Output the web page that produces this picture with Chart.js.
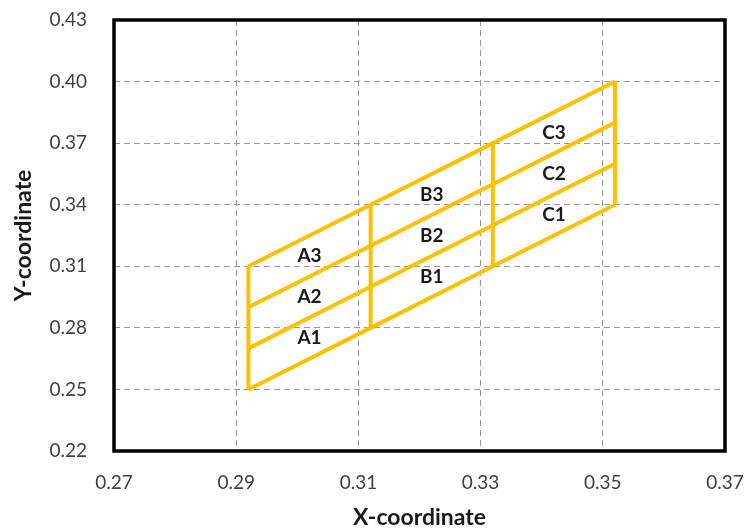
<!DOCTYPE html>
<html>
<head>
<meta charset="utf-8">
<script src="https://cdn.jsdelivr.net/npm/chart.js@4.4.1/dist/chart.umd.min.js"></script>
<style>
  html, body { margin: 0; padding: 0; background: #fff; }
  #wrap { width: 746px; height: 531px; }
</style>
</head>
<body>
<div id="wrap"><canvas id="chart"></canvas></div>
<script>
  // mesh nodes: x position of each column line, y values of the 4 row lines along it
  const xNodes = [0.292, 0.312, 0.332, 0.352];
  const yNodes = [
    [0.25, 0.27, 0.29, 0.31],
    [0.28, 0.30, 0.32, 0.34],
    [0.31, 0.33, 0.35, 0.37],
    [0.34, 0.36, 0.38, 0.40]
  ];

  const cellLabels = ['A1', 'A2', 'A3', 'B1', 'B2', 'B3', 'C1', 'C2', 'C3'];
  const cellX = [0.302, 0.302, 0.302, 0.322, 0.322, 0.322, 0.342, 0.342, 0.342];
  const cellY = [0.275, 0.295, 0.315, 0.305, 0.325, 0.345, 0.335, 0.355, 0.375];

  const xTicks = [0.27, 0.29, 0.31, 0.33, 0.35, 0.37];
  const yTicks = [0.22, 0.25, 0.28, 0.31, 0.34, 0.37, 0.40, 0.43];

  const lineColor = '#FFC000';
  const font = 'Lato, "Liberation Sans", sans-serif';

  let datasets = [];
  // slanted row lines
  for (let r = 0; r < 4; r++) {
    datasets.push({
      data: xNodes.map((x, c) => ({ x, y: yNodes[c][r] })),
      showLine: true,
      borderColor: lineColor,
      borderWidth: 4,
      pointRadius: 0,
      fill: false
    });
  }
  // vertical column lines
  xNodes.forEach((x, c) => {
    datasets.push({
      data: [{ x, y: yNodes[c][0] }, { x, y: yNodes[c][3] }],
      showLine: true,
      borderColor: lineColor,
      borderWidth: 4,
      pointRadius: 0,
      fill: false
    });
  });

  const frameAndLabels = {
    id: 'frameAndLabels',
    beforeDatasetsDraw(chart) {
      let { ctx, chartArea: a } = chart;
      ctx.save();
      ctx.strokeStyle = '#000';
      ctx.lineWidth = 3.5;
      ctx.strokeRect(a.left, a.top, a.right - a.left, a.bottom - a.top);
      ctx.restore();
    },
    afterDatasetsDraw(chart) {
      let { ctx, scales } = chart;
      ctx.save();
      ctx.font = 'bold 19px ' + font;
      ctx.fillStyle = '#1a1a1a';
      ctx.textAlign = 'center';
      ctx.textBaseline = 'middle';
      cellLabels.forEach((t, i) => {
        ctx.fillText(t, scales.x.getPixelForValue(cellX[i]), scales.y.getPixelForValue(cellY[i]));
      });
      ctx.restore();
    }
  };

  new Chart(document.getElementById('chart'), {
    type: 'scatter',
    data: { datasets },
    options: {
      responsive: true,
      maintainAspectRatio: false,
      animation: false,
      layout: { padding: { left: 0, right: 21, top: 20, bottom: 0 } },
      plugins: { legend: { display: false }, tooltip: { enabled: false } },
      scales: {
        x: {
          type: 'linear',
          min: 0.27,
          max: 0.37,
          afterBuildTicks(scale) { scale.ticks = xTicks.map(v => ({ value: v })); },
          afterFit(scale) {
            scale.height = 80;
            scale.paddingLeft = 0;
            scale.paddingRight = 0;
          },
          grid: { color: '#999999', lineWidth: 1, drawTicks: false },
          border: { display: false, dash: [6, 4] },
          ticks: {
            padding: 20,
            color: '#404040',
            font: { family: font, size: 19 },
            callback: v => v.toFixed(2)
          },
          title: {
            display: true,
            text: 'X-coordinate',
            color: '#1a1a1a',
            font: { family: font, size: 23, weight: 'bold' },
            padding: { top: 0, bottom: 0 }
          }
        },
        y: {
          type: 'linear',
          min: 0.22,
          max: 0.43,
          afterBuildTicks(scale) { scale.ticks = yTicks.map(v => ({ value: v })); },
          afterFit(scale) {
            scale.width = 114;
            scale.paddingTop = 0;
            scale.paddingBottom = 0;
          },
          grid: { color: '#999999', lineWidth: 1, drawTicks: false },
          border: { display: false, dash: [6, 4] },
          ticks: {
            padding: 27,
            color: '#404040',
            font: { family: font, size: 19 },
            callback: v => v.toFixed(2)
          },
          title: {
            display: true,
            text: 'Y-coordinate',
            color: '#1a1a1a',
            font: { family: font, size: 23, weight: 'bold' },
            padding: { top: 10, bottom: 0 }
          }
        }
      }
    },
    plugins: [frameAndLabels]
  });
</script>
</body>
</html>
